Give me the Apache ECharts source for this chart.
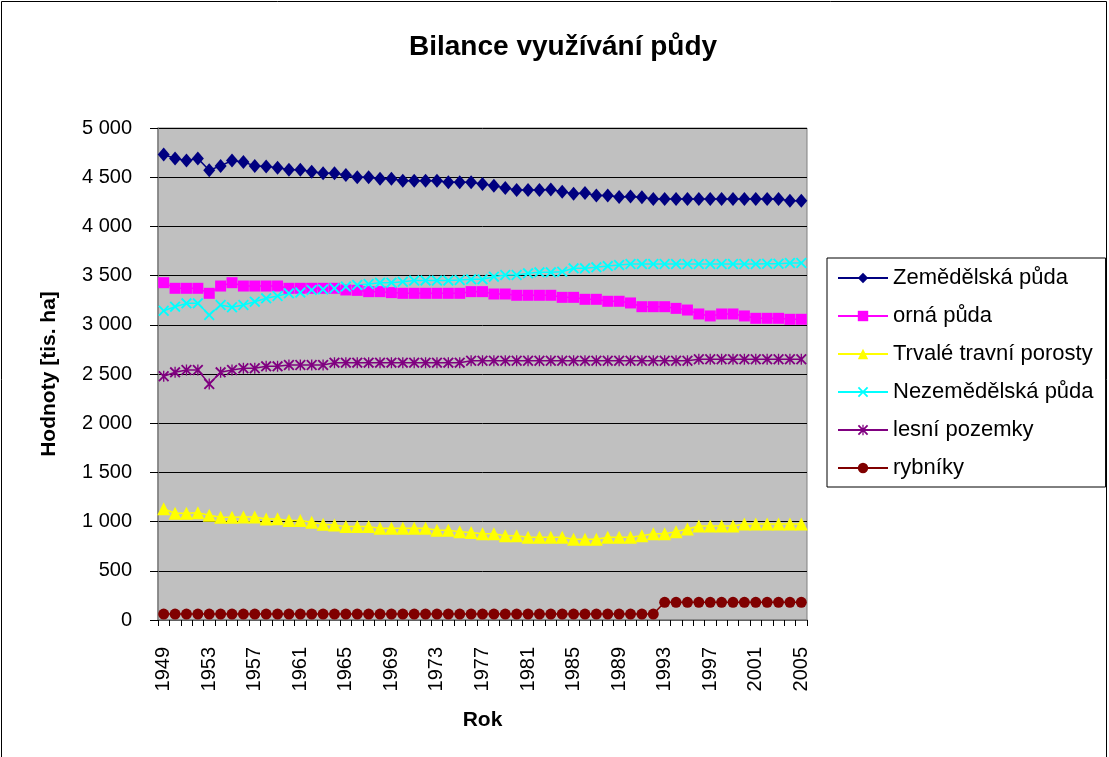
<!DOCTYPE html>
<html><head><meta charset="utf-8">
<script src="https://cdn.jsdelivr.net/npm/echarts@6/dist/echarts.min.js"></script>
<style>html,body{margin:0;padding:0;background:#fff}#c{width:1109px;height:757px}</style>
</head><body><div id="c"></div>
<script>
var years = ['1949','1950','1951','1952','1953','1954','1955','1956','1957','1958','1959','1960','1961','1962','1963','1964','1965','1966','1967','1968','1969','1970','1971','1972','1973','1974','1975','1976','1977','1978','1979','1980','1981','1982','1983','1984','1985','1986','1987','1988','1989','1990','1991','1992','1993','1994','1995','1996','1997','1998','1999','2000','2001','2002','2003','2004','2005'];
var zemedelska = [4730,4690,4670,4690,4570,4615,4670,4655,4615,4610,4597,4576,4576,4556,4540,4540,4522,4500,4500,4485,4485,4465,4465,4465,4465,4448,4448,4448,4431,4414,4390,4370,4370,4370,4375,4353,4332,4339,4315,4315,4298,4305,4295,4278,4278,4278,4278,4278,4278,4278,4278,4278,4278,4278,4278,4260,4260];
var orna = [3428,3371,3371,3371,3320,3394,3428,3394,3394,3394,3394,3371,3371,3371,3371,3371,3354,3350,3337,3337,3327,3320,3320,3320,3320,3320,3320,3337,3337,3313,3313,3300,3300,3300,3300,3279,3279,3259,3259,3239,3239,3222,3184,3184,3184,3167,3150,3110,3090,3110,3110,3090,3066,3066,3066,3056,3056];
var trvale = [1130,1084,1084,1090,1064,1044,1044,1047,1047,1027,1030,1010,1010,993,973,966,949,949,949,932,932,932,932,932,912,912,898,890,877,877,857,857,840,840,840,840,820,820,820,840,840,840,857,877,877,898,925,955,955,955,955,976,976,976,976,976,976];
var nezemedelska = [3143,3184,3218,3218,3100,3201,3178,3201,3235,3269,3293,3320,3327,3354,3360,3371,3388,3405,3415,3428,3428,3438,3449,3449,3449,3449,3455,3462,3462,3489,3506,3506,3523,3533,3533,3540,3574,3574,3584,3597,3608,3618,3618,3618,3618,3618,3618,3618,3618,3618,3618,3618,3618,3620,3620,3628,3628];
var lesni = [2477,2517,2541,2541,2398,2517,2541,2558,2558,2578,2578,2591,2591,2591,2591,2615,2615,2615,2615,2615,2615,2615,2615,2615,2615,2615,2615,2635,2635,2635,2635,2635,2635,2635,2635,2635,2635,2635,2635,2635,2635,2635,2635,2635,2635,2635,2635,2650,2650,2650,2650,2650,2650,2650,2650,2650,2650];
var rybniky = [60,60,60,60,60,60,60,60,60,60,60,60,60,60,60,60,60,60,60,60,60,60,60,60,60,60,60,60,60,60,60,60,60,60,60,60,60,60,60,60,60,60,60,60,180,180,180,180,180,180,180,180,180,180,180,180,180];

var FONT = '"Liberation Sans", Arial, sans-serif';
var xPath = 'path://M0,1.2L1.2,0L5,3.8L8.8,0L10,1.2L6.2,5L10,8.8L8.8,10L5,6.2L1.2,10L0,8.8L3.8,5Z';
var starPath = 'path://M0,1.2L1.2,0L5,3.8L8.8,0L10,1.2L6.2,5L10,8.8L8.8,10L5,6.2L1.2,10L0,8.8L3.8,5Z M4.4,0L5.6,0L5.6,10L4.4,10Z';

function mk(name, data, color, symbol, size) {
  return {
    name: name, type: 'line', data: data,
    symbol: symbol, symbolSize: size, showSymbol: true, showAllSymbol: true,
    lineStyle: {color: color, width: 1.5},
    itemStyle: {color: color},
    emphasis: {disabled: true},
    animation: false, z: 3
  };
}

var chart = echarts.init(document.getElementById('c'), null, {renderer: 'canvas'});
chart.setOption({
  backgroundColor: '#ffffff',
  animation: false,
  title: {
    text: 'Bilance využívání půdy', left: 404, top: 28,
    textStyle: {fontFamily: FONT, fontSize: 28, fontWeight: 'bold', color: '#000'}
  },
  graphic: [{
    type: 'rect', shape: {x: 1.5, y: 1.5, width: 1105, height: 800},
    style: {fill: 'none', stroke: '#000', lineWidth: 1}, silent: true, z: 0
  }],
  legend: {
    orient: 'vertical', left: 827, top: 258,
    padding: [9, 12, 8, 10],
    itemGap: 16, itemWidth: 50, itemHeight: 13,
    backgroundColor: '#fff', borderColor: '#000', borderWidth: 1,
    textStyle: {fontFamily: FONT, fontSize: 22, color: '#000', lineHeight: 20},
    data: ['Zemědělská půda','orná půda','Trvalé travní porosty','Nezemědělská půda','lesní pozemky','rybníky']
  },
  grid: {
    left: 158, right: 302, top: 128, bottom: 137,
    show: true, backgroundColor: '#C0C0C0', borderColor: '#808080', borderWidth: 1
  },
  xAxis: {
    type: 'category', data: years, boundaryGap: true,
    name: 'Rok', nameLocation: 'middle', nameGap: 90,
    nameTextStyle: {fontFamily: FONT, fontSize: 21, fontWeight: 'bold', color: '#000'},
    axisLine: {show: true, lineStyle: {color: '#808080', width: 1.5}},
    axisTick: {show: true, interval: 0, length: 6, lineStyle: {color: '#000'}},
    axisLabel: {interval: 3, rotate: 90, margin: 27, fontFamily: FONT, fontSize: 20, color: '#000'},
    splitLine: {show: false}
  },
  yAxis: {
    type: 'value', min: 0, max: 5000, interval: 500,
    name: 'Hodnoty [tis. ha]', nameLocation: 'middle', nameGap: 98,
    nameTextStyle: {fontFamily: FONT, fontSize: 21, fontWeight: 'bold', color: '#000'},
    axisLine: {show: true, lineStyle: {color: '#808080', width: 1.5}},
    axisTick: {show: true, length: 8, lineStyle: {color: '#000'}},
    axisLabel: {
      margin: 26, fontFamily: FONT, fontSize: 20, color: '#000',
      formatter: function (v) { return v >= 1000 ? Math.floor(v / 1000) + ' ' + String(v % 1000).padStart(3, '0') : String(v); }
    },
    splitLine: {show: true, lineStyle: {color: '#000', width: 1}}
  },
  series: [
    mk('Zemědělská půda', zemedelska, '#000080', 'diamond', [12, 14]),
    mk('orná půda', orna, '#FF00FF', 'rect', 11),
    mk('Trvalé travní porosty', trvale, '#FFFF00', 'triangle', [13, 13]),
    mk('Nezemědělská půda', nezemedelska, '#00FFFF', xPath, 11),
    mk('lesní pozemky', lesni, '#800080', starPath, 11),
    mk('rybníky', rybniky, '#800000', 'circle', 11)
  ]
});
</script></body></html>
